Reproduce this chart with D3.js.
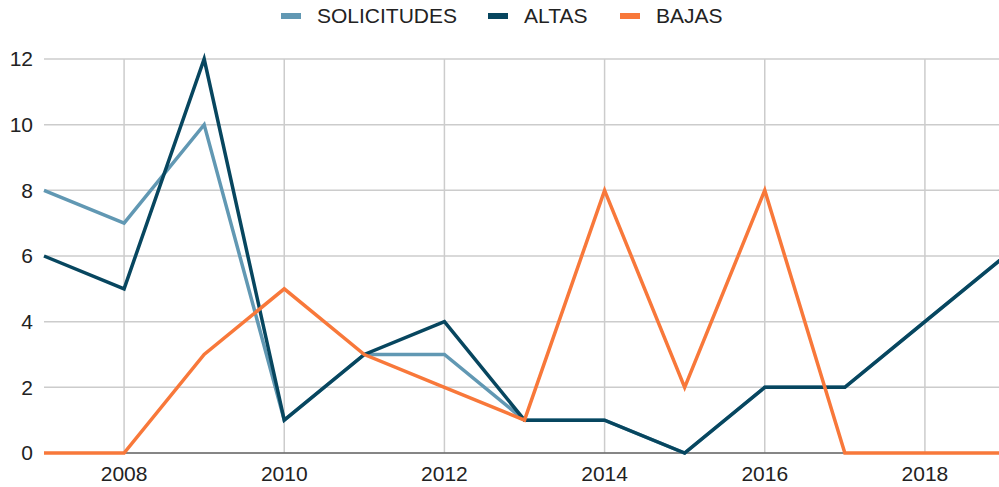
<!DOCTYPE html>
<html>
<head>
<meta charset="utf-8">
<script src="https://cdn.jsdelivr.net/npm/d3@7"></script>
<style>
  body { margin: 0; background: #fff; }
  text { font-family: "Liberation Sans", Arial, sans-serif; fill: #222; }
</style>
</head>
<body>
<div id="chart-area"></div>
<script>
const years = [2007, 2008, 2009, 2010, 2011, 2012, 2013, 2014, 2015, 2016, 2017, 2018, 2019];
const solicitudes = [8, 7, 10, 1, 3, 3, 1, 1, 0, 2, 2, 4, 6];
const altas = [6, 5, 12, 1, 3, 4, 1, 1, 0, 2, 2, 4, 6];
const bajas = [0, 0, 3, 5, 3, 2, 1, 8, 2, 8, 0, 0, 0];
const seriesNames = ["SOLICITUDES", "ALTAS", "BAJAS"];
const colors = ["#6198b3", "#07465f", "#f8783a"];
const xTicks = [2008, 2010, 2012, 2014, 2016, 2018];
const yTicks = [0, 2, 4, 6, 8, 10, 12];

const width = 999, height = 487;

const svg = d3
  .select("#chart-area")
  .append("svg")
  .attr("width", width)
  .attr("height", height);

const x = d3.scaleLinear().domain([2007, 2019]).range([44, 1005]);
const y = d3.scaleLinear().domain([0, 12]).range([453, 59]);

// grid
svg.append("g")
  .selectAll("line")
  .data(yTicks)
  .enter()
  .append("line")
  .attr("x1", 44)
  .attr("x2", width)
  .attr("y1", d => y(d))
  .attr("y2", d => y(d))
  .attr("stroke", "#cccccc")
  .attr("stroke-width", 1.5);

svg.append("g")
  .selectAll("line")
  .data(xTicks)
  .enter()
  .append("line")
  .attr("x1", d => x(d))
  .attr("x2", d => x(d))
  .attr("y1", y(12))
  .attr("y2", y(0))
  .attr("stroke", "#cccccc")
  .attr("stroke-width", 1.5);

// baseline
svg.append("line")
  .attr("x1", 44)
  .attr("x2", width)
  .attr("y1", y(0))
  .attr("y2", y(0))
  .attr("stroke", "#333")
  .attr("stroke-width", 1);

// axis labels
svg.append("g")
  .selectAll("text")
  .data(yTicks)
  .enter()
  .append("text")
  .attr("x", 33)
  .attr("y", d => y(d))
  .attr("dy", "0.35em")
  .attr("text-anchor", "end")
  .attr("font-size", 21)
  .text(d => d);

svg.append("g")
  .selectAll("text")
  .data(xTicks)
  .enter()
  .append("text")
  .attr("x", d => x(d))
  .attr("y", 481)
  .attr("text-anchor", "middle")
  .attr("font-size", 21)
  .text(d => d);

// lines
const line = d3.line()
  .x((d, i) => x(years[i]))
  .y(d => y(d));

svg.append("g")
  .selectAll("path")
  .data([solicitudes, altas, bajas])
  .enter()
  .append("path")
  .attr("d", d => line(d))
  .attr("fill", "none")
  .attr("stroke", (d, i) => colors[i])
  .attr("stroke-width", 3.5)
  .attr("stroke-linejoin", "miter");

// legend
const legendX = [281, 488, 620];
const legend = svg.append("g")
  .selectAll("g")
  .data(seriesNames)
  .enter()
  .append("g")
  .attr("transform", (d, i) => `translate(${legendX[i]},16)`);

legend.append("rect")
  .attr("x", 0)
  .attr("y", -3)
  .attr("width", 20)
  .attr("height", 6)
  .attr("fill", (d, i) => colors[i]);

legend.append("text")
  .attr("x", 36)
  .attr("dy", "0.35em")
  .attr("font-size", 21)
  .text(d => d);
</script>
</body>
</html>
